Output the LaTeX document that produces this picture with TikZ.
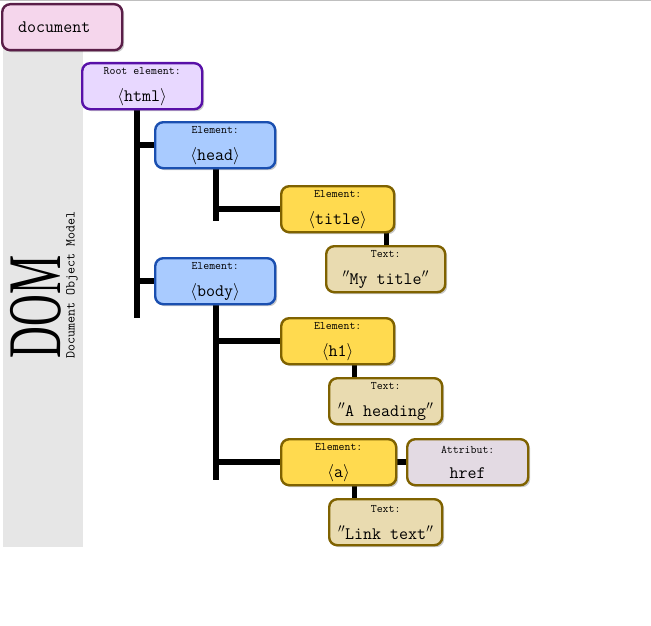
\documentclass[tikz,border=0pt]{standalone}
\usepackage{fontspec}
\newfontfamily\domserif{Liberation Serif}
\usetikzlibrary{positioning,shadows,backgrounds}
\definecolor{bandgray}{RGB}{230,230,230}
\definecolor{docfill}{RGB}{245,214,236}
\definecolor{docline}{RGB}{90,30,72}
\definecolor{rootfill}{RGB}{232,216,255}
\definecolor{rootline}{RGB}{88,16,168}
\definecolor{elemfill}{RGB}{169,203,255}
\definecolor{elemline}{RGB}{26,79,176}
\definecolor{leaffill}{RGB}{255,218,79}
\definecolor{leafline}{RGB}{127,98,0}
\definecolor{textfill}{RGB}{233,219,176}
\definecolor{attrfill}{RGB}{227,218,227}
\newcommand\domcap{\fontsize{11.5}{12}\selectfont}
\newcommand\domtag{\fontsize{17.5}{18}\selectfont}

\tikzset{
  box/.style={draw, rounded corners=8pt, line width=2.4pt, anchor=north west,
    inner sep=0pt, align=center, font=\ttfamily, minimum height=46pt,
    drop shadow={shadow xshift=2pt,shadow yshift=-2pt,opacity=0.3,fill=black!70}},
  docbox/.style={box, fill=docfill, draw=docline, minimum width=120pt},
  rootbox/.style={box, fill=rootfill, draw=rootline, minimum width=120pt},
  elembox/.style={box, fill=elemfill, draw=elemline, minimum width=120pt},
  leafbox/.style={box, fill=leaffill, draw=leafline, minimum width=113pt},
  textbox/.style={box, fill=textfill, draw=leafline, minimum width=119pt},
  attrbox/.style={box, fill=attrfill, draw=leafline, minimum width=121pt},
  link/.style={line width=5.5pt, black}
}

\begin{document}
\begin{tikzpicture}[x=1pt,y=-1pt]
  \useasboundingbox (0,0) rectangle (651,626);
  \draw[gray!50, line width=1pt] (0,0.5) -- (651,0.5);

  % side band
  \fill[bandgray] (3,45) rectangle (83,547);
  \node[rotate=90, font=\domserif\fontsize{44}{44}\selectfont] (dom) at (36,307)
    {\scalebox{1}[1.72]{DOM}};
  \node[rotate=90, font=\ttfamily\fontsize{13.6}{14}\selectfont] (domname) at (72,285)
    {Document Object Model};

  % tree
  \node[docbox, text width=88pt, align=left] (document) at (1,3) {\domtag document};
  \node[rootbox] (html) at (81,62) {\domcap Root element:\\[13pt]\domtag$\langle$html$\rangle$};
  \node[elembox] (head) at (154,121) {\domcap Element:\\[13pt]\domtag$\langle$head$\rangle$};
  \node[leafbox] (title) at (280,185) {\domcap Element:\\[13pt]\domtag$\langle$title$\rangle$};
  \node[textbox] (mytitle) at (325,245) {\domcap Text:\\[13pt]\domtag$''$My title$''$};
  \node[elembox] (body) at (154,257) {\domcap Element:\\[13pt]\domtag$\langle$body$\rangle$};
  \node[leafbox] (h1) at (280,317) {\domcap Element:\\[13pt]\domtag$\langle$h1$\rangle$};
  \node[textbox, minimum width=113pt] (heading) at (328,377) {\domcap Text:\\[13pt]\domtag$''$A heading$''$};
  \node[leafbox, minimum width=115pt] (a) at (280,438) {\domcap Element:\\[13pt]\domtag$\langle$a$\rangle$};
  \node[attrbox] (href) at (406,438) {\domcap Attribut:\\[13pt]\domtag href};
  \node[textbox, minimum width=113pt] (linktext) at (328,498) {\domcap Text:\\[13pt]\domtag$''$Link text$''$};

  % connectors
  \coordinate (htmlend) at (137,318);
  \coordinate (headend) at (216,221);
  \coordinate (bodyend) at (216,480);
  \begin{scope}[on background layer]
    \draw[link] (document.center) |- (html.west);
    \draw[link] (html.south -| htmlend) -- (htmlend)
      (head.west) -- (head.west -| htmlend)
      (body.west) -- (body.west -| htmlend);
    \draw[link] (head.south -| headend) -- (headend)
      (title.west) -- (title.west -| headend);
    \draw[link] (body.south -| bodyend) -- (bodyend)
      (h1.west) -- (h1.west -| bodyend)
      (a.west) -- (a.west -| bodyend);
    \draw[link] ([xshift=49pt]title.south) -- ([xshift=49pt]title.south |- mytitle.north);
    \draw[link] ([xshift=17pt]h1.south) -- ([xshift=17pt]h1.south |- heading.north);
    \draw[link] ([xshift=16pt]a.south) -- ([xshift=16pt]a.south |- linktext.north);
    \draw[link] (a.east) -- (href.west);
  \end{scope}
\end{tikzpicture}
\end{document}
